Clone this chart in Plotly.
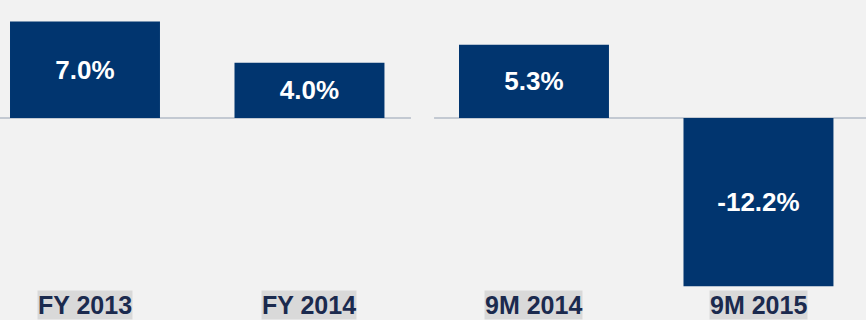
import plotly.graph_objects as go

# Growth by period (%)
periods = ["FY 2013", "FY 2014", "9M 2014", "9M 2015"]
growth = [7.0, 4.0, 5.3, -12.2]

BG = "#f2f2f2"
BAR = "#01356f"
AXIS_LINE = "#c3c9d2"
LABEL_BG = "#d9d9d9"
LABEL_FG = "#1b2a4e"
FONT = "Liberation Sans, Arial, sans-serif"

fig = go.Figure(
    go.Bar(
        x=list(range(len(periods))),
        y=growth,
        width=0.668,
        marker=dict(color=BAR, line=dict(width=0)),
        text=[f"{v:.1f}%" for v in growth],
        textposition="inside",
        insidetextanchor="middle",
        textfont=dict(family=FONT, size=26, color="white", weight="bold"),
        hoverinfo="skip",
    )
)

# Zero baseline, split between the fiscal-year and nine-month groups
for x0, x1 in [(-0.4, 1.452), (1.555, 3.6)]:
    fig.add_shape(
        type="line", xref="x", yref="y", x0=x0, x1=x1, y0=0, y1=0,
        line=dict(color=AXIS_LINE, width=2), layer="below",
    )

# Period labels in grey boxes along the bottom
for i, p in enumerate(periods):
    fig.add_annotation(
        x=i, xref="x", y=0, yref="paper",
        yanchor="bottom", xanchor="center", showarrow=False,
        text=f"<b>{p}</b>",
        font=dict(family=FONT, size=25, color=LABEL_FG),
        bgcolor=LABEL_BG, borderpad=0,
    )

fig.update_layout(
    width=866, height=320,
    margin=dict(l=0, r=0, t=0, b=0),
    paper_bgcolor=BG, plot_bgcolor=BG,
    showlegend=False,
    xaxis=dict(range=[-0.3786, 3.479], visible=False, fixedrange=True),
    yaxis=dict(range=[-14.638, 8.551], visible=False, fixedrange=True),
)

fig.write_html("out.html")
